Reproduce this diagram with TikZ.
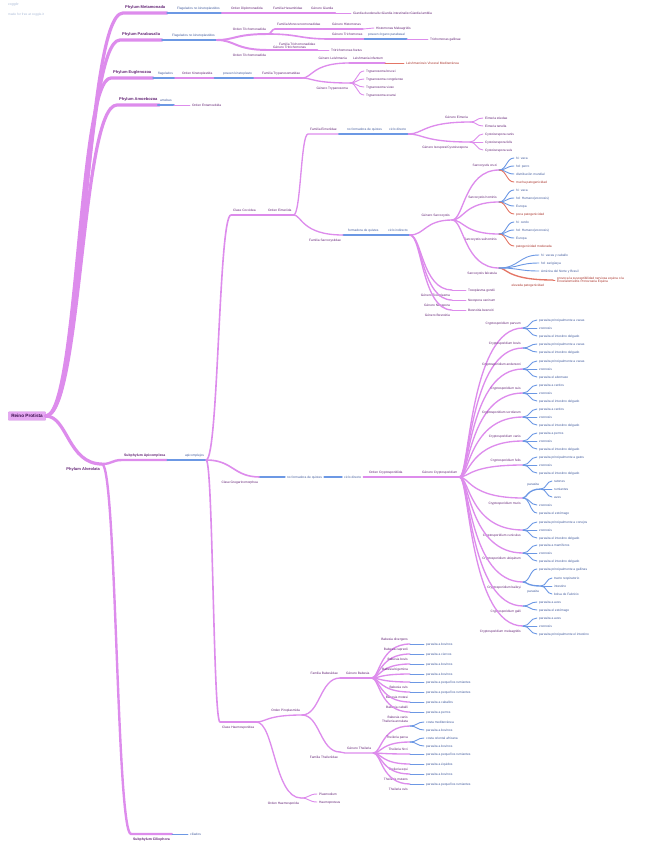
\documentclass[tikz,border=0pt]{standalone}
\usepackage{fontspec}
\setmainfont{Liberation Sans}
\usetikzlibrary{calc}

\definecolor{bm}{RGB}{221,140,236}
\definecolor{bb}{RGB}{108,152,228}
\definecolor{br}{RGB}{228,118,102}
\definecolor{tm}{RGB}{98,34,116}
\definecolor{tb}{RGB}{64,90,156}
\definecolor{tr}{RGB}{168,50,42}
\definecolor{logoc}{RGB}{170,186,214}
\definecolor{rootf}{RGB}{230,168,243}
\definecolor{rootd}{RGB}{204,128,224}
\definecolor{roott}{RGB}{58,14,76}

\newcommand\lblfont{\fontsize{4.6}{5.2}\selectfont}

\tikzset{
  sb/.style={to path={let \p1=(\tikztostart), \p2=(\tikztotarget) in
    .. controls ({(\x1+\x2)/2},\y1) and ({(\x1+\x2)/2},\y2) .. (\tikztotarget) \tikztonodes}},
  fan/.style={to path={let \p1=(\tikztostart), \p2=(\tikztotarget) in
    .. controls ({\x1+#1*0.5mm},\y1) and ({\x1+#1*0.5mm},\y2) .. (\tikztotarget) \tikztonodes}},
  lbl/.style={font=\lblfont, inner ysep=0pt, inner xsep=1mm, text=tm},
  up/.style={lbl, anchor=south west, text height=3.3pt, text depth=4.8pt},
  dn/.style={lbl, anchor=north west, text height=8.4pt, text depth=0.8pt},
  upr/.style={up, anchor=south east},
  dnr/.style={dn, anchor=north east},
  lf/.style={lbl, anchor=west, text height=3.2pt, text depth=0pt},
  ph/.style={font=\bfseries\fontsize{5.7}{6.2}\selectfont, text height=4.2pt, text depth=6.3pt},
  sub/.style={font=\bfseries\fontsize{4.9}{5.4}\selectfont, text height=3.6pt},
  blu/.style={text=tb},
  rd/.style={text=tr},
  brand/.style={anchor=west, inner sep=0pt, text=logoc},
  rootbox/.style={fill=rootf, draw=rootd, line width=0.4pt, text=roott,
    font=\bfseries\fontsize{6.6}{7}\selectfont, inner xsep=1.4mm, inner ysep=0pt,
    minimum height=4.2mm, rounded corners=0.6pt},
  trunk/.style={line width=4.6pt, line cap=round, line join=round},
  bough/.style={line width=3.4pt, line cap=round, line join=round},
  limb/.style={line width=2.8pt, line cap=round, line join=round},
  stem/.style={line width=2.3pt, line cap=round, line join=round},
  twig/.style={line width=1.9pt, line cap=round, line join=round},
  sprig/.style={line width=1.3pt, line cap=round, line join=round},
}

\begin{document}
\begin{tikzpicture}[x=0.5mm, y=-0.5mm]
\useasboundingbox (0,0) rectangle (660,848);

% header
\node[brand, font=\itshape\fontsize{5}{6}\selectfont] (logo) at (8,5) {coggle};
\node[brand, font=\fontsize{4.6}{5}\selectfont] (madefor) at (8,15) {made for free at coggle.it};

% root and phyla
\node[rootbox] (protista) at (27,416) {Reino Protista};
\node[up, ph] (metamonada) at (123,13) {Phylum Metamonada};
\node[up, ph] (parabasalia) at (120,40) {Phylum Parabasalia};
\node[up, ph] (euglenozoa) at (111,78) {Phylum Euglenozoa};
\node[up, ph] (amoebozoa) at (117,105) {Phylum Amoebozoa};
\node[dnr, ph, text height=9.6pt, text depth=1.2pt] (alveolata) at (102,464) {Phylum Alveolata};

% Metamonada
\node[up, blu] (flagmeta) at (175,13) {Flagelados no kinetoplastidos};
\node[up] (diplomonadida) at (229,13) {Orden Diplomonadida};
\node[up] (hexamitidae) at (271,13) {Familia Hexamitidae};
\node[up] (giardia) at (309,13) {Género Giardia};

% Parabasalia
\node[up, blu] (flagpara) at (170,40) {Flagelados no kinetoplastidos};
\node[upr] (trichoA) at (268,34) {Orden Trichomonadida};
\node[dnr] (trichoB) at (268,50) {Orden Trichomonadida};
\node[up] (monocerco) at (275,29) {Familia Monocercomonadidae};
\node[up] (histomonasg) at (330,29) {Género Histomonas};
\node[up] (trichomonasg) at (330,39) {Género Trichomonas};
\node[up, blu] (organo) at (366,39) {poseen órgano parabasal};
\node[lbl, anchor=south west, align=left, inner ysep=1.2pt] (trichomonadidae) at (271,50)
  {\hspace*{3mm}Familia Trichomonadidae\\Género Tritrichomonas};

% Euglenozoa
\node[up, blu] (flagelados) at (156,78) {flagelados};
\node[up] (kineto) at (180,78) {Orden Kinetoplastida};
\node[up, blu] (kinetoplasto) at (221,78) {poseen kinetoplasto};
\node[up] (trypanosomatidae) at (260,78) {Familia Trypanosomatidae};
\node[upr] (leishmaniag) at (349,63) {Género Leishmania};
\node[up] (linfantum) at (351,63) {Leishmania infantum};
\node[dnr] (trypanosomag) at (350,83) {Género Trypanosoma};

% Amoebozoa
\node[up, blu] (amebas) at (158,105) {amebas};

% Alveolata
\node[up, sub] (apicomplexa) at (122,460) {Subphylum Apicomplexa};
\node[dn, sub, text height=8.9pt] (ciliophora) at (131,834) {Subphylum Ciliophora};
\node[up, blu] (apicomplejos) at (183,460) {apicomplejos};

% Coccidea
\node[up] (coccidea) at (231,215) {Clase Coccidea};
\node[up] (eimeriida) at (266,215) {Orden Eimeriida};
\node[up] (eimeriidae) at (308,134) {Familia Eimeriidae};
\node[up, blu] (noquistes1) at (345,134) {no formadora de quistes};
\node[up, blu] (directo1) at (387,134) {ciclo directo};
\node[upr] (eimeriag) at (470,122) {Género Eimeria};
\node[dnr] (isosporag) at (470,142) {Género Isospora/Cystoisospora};
\node[dnr] (sarcocystidae) at (343,235) {Familia Sarcocystidae};
\node[up, blu] (quistes2) at (346,235) {formadora de quistes};
\node[up, blu] (indirecto) at (386,235) {ciclo indirecto};
\node[upr] (sarcocystisg) at (452,220) {Género Sarcocystis};
\node[upr] (scruzi) at (499,170) {Sarcocystis cruzi};
\node[upr] (shominis) at (499,202) {Sarcocystis hominis};
\node[dnr] (ssuihominis) at (499,234) {Sarcocystis suihominis};
\node[dnr] (sfalcatula) at (499,268) {Sarcocystis falcatula};
\node[dnr, rd, minimum width=25mm] (elevada) at (553,280) {elevada patogenicidad};
\node[lbl, rd, anchor=west, align=left] (provoca) at (555,280)
  {provoca la susceptibilidad nerviosa equina o la\\Encefalomielitis Protozoaria Equina};
\node[dnr] (toxoplasmag) at (452,290) {Género Toxoplasma};
\node[dnr] (neosporag) at (452,300) {Género Neospora};
\node[dnr] (besnoitiag) at (452,310) {Género Besnoitia};

% Gregarinomorphea
\node[dnr] (gregarino) at (260,477) {Clase Gregarinomorphea};
\node[lf, blu] (noquistes3) at (285,477) {no formadora de quistes};
\node[lf, blu] (directo2) at (342,477) {ciclo directo};
\node[up] (cryptoorden) at (367,477) {Orden Cryptosporidiida};
\node[up] (cryptog) at (420,477) {Género Cryptosporidium};
\node[upr, blu] (parasita1) at (541,489) {parasita};
\node[dnr, blu] (parasita2) at (541,586) {parasita};

% Haemosporidea
\node[dn] (haemosporidea) at (220,722) {Clase Haemosporidea};
\node[upr] (piroplasmida) at (302,715) {Orden Piroplasmida};
\node[upr] (babesiidae) at (340,678) {Familia Babesiidae};
\node[up] (babesiag) at (344,678) {Género Babesia};
\node[dnr] (theileriidae) at (340,752) {Familia Theileriidae};
\node[up] (theileriag) at (345,753) {Género Theileria};
\node[dnr] (haemosporida) at (301,798) {Orden Haemosporida};

% species fans
\foreach \nm/\yy/\st/\sd in {parvum/328/upr/south, bovis/348/upr/south, andersoni/369/upr/south,
    suis/393/upr/south, scrofarum/417/upr/south, canis/441/upr/south, felis/465/upr/south,
    muris/498/dnr/north, cuniculus/530/dnr/north, ubiquitum/553/dnr/north,
    baileyi/582/dnr/north, galli/606/dnr/north, meleagridis/626/dnr/north}{
  \node[\st] (c\nm) at (523,\yy) {Cryptosporidium \nm};
  \draw[twig, draw=bm] (cryptog.south -| cryptog.east) to[fan=10] (c\nm.\sd -| c\nm.east);
}
\foreach \nm/\yy/\st/\sd in {divergens/644/upr/south, capreoli/654/upr/south, bovis/664/upr/south,
    bigemina/674/upr/south, ovis/682/dnr/north, motasi/692/dnr/north,
    caballi/702/dnr/north, canis/712/dnr/north}{
  \node[\st] (b\nm) at (410,\yy) {Babesia \nm};
  \draw[twig, draw=bm] (babesiag.south -| babesiag.east) to[fan=8] (b\nm.\sd -| b\nm.east);
}
\foreach \nm/\yy/\st/\sd in {annulata/726/upr/south, parva/742/upr/south, hirci/754/upr/south,
    equi/764/dnr/north, mutans/774/dnr/north, ovis/784/dnr/north}{
  \node[\st] (t\nm) at (410,\yy) {Theileria \nm};
  \draw[twig, draw=bm] (theileriag.south -| theileriag.east) to[fan=8] (t\nm.\sd -| t\nm.east);
}

% branches
\foreach \cn in {metamonada, parabasalia, euglenozoa, amoebozoa}
  \draw[trunk, draw=bm] (protista.east) to[sb] (\cn.south west) -- (\cn.south east);
\draw[trunk, draw=bm] (protista.east) to[fan=22] (alveolata.north east);

\foreach \pn/\pside/\cn/\cside/\col in {metamonada/south/flagmeta/south/bb,
    parabasalia/south/flagpara/south/bb, euglenozoa/south/flagelados/south/bb,
    amoebozoa/south/amebas/south/bb, alveolata/north/apicomplexa/south/bm,
    alveolata/north/ciliophora/north/bm}
  \draw[bough, draw=\col] (\pn.\pside -| \pn.east) to[sb] (\cn.\cside -| \cn.west) -- (\cn.\cside -| \cn.east);

\foreach \pn/\pside/\cn/\cside/\col in {flagmeta/south/diplomonadida/south/bm,
    flagelados/south/kineto/south/bm, apicomplexa/south/apicomplejos/south/bb}
  \draw[limb, draw=\col] (\pn.\pside -| \pn.east) to[sb] (\cn.\cside -| \cn.west) -- (\cn.\cside -| \cn.east);
\foreach \pn/\pside/\cn/\cside/\col/\dd in {flagpara/south/trichoA/south/bm/18,
    flagpara/south/trichoB/north/bm/18}
  \draw[limb, draw=\col] (\pn.\pside -| \pn.east) to[fan=\dd] (\cn.\cside -| \cn.east);

\foreach \pn/\pside/\cn/\cside/\col in {diplomonadida/south/hexamitidae/south/bm,
    trichoA/south/monocerco/south/bm, trichoA/south/trichomonasg/south/bm,
    trichoB/north/trichomonadidae/south/bm, kineto/south/kinetoplasto/south/bb,
    apicomplejos/south/coccidea/south/bm, apicomplejos/south/haemosporidea/north/bm}
  \draw[stem, draw=\col] (\pn.\pside -| \pn.east) to[sb] (\cn.\cside -| \cn.west) -- (\cn.\cside -| \cn.east);
\draw[stem, draw=bm] (apicomplejos.south east) to[fan=27] (gregarino.north east);

\foreach \pn/\pside/\cn/\cside/\col in {hexamitidae/south/giardia/south/bm,
    monocerco/south/histomonasg/south/bm, trichomonasg/south/organo/south/bb,
    kinetoplasto/south/trypanosomatidae/south/bm, leishmaniag/south/linfantum/south/bm,
    coccidea/south/eimeriida/south/bm, eimeriida/south/eimeriidae/south/bm,
    eimeriidae/south/noquistes1/south/bb, noquistes1/south/directo1/south/bb,
    sarcocystidae/north/quistes2/south/bb, quistes2/south/indirecto/south/bb,
    directo2/center/cryptoorden/south/bm, cryptoorden/south/cryptog/south/bm,
    babesiidae/south/babesiag/south/bm, theileriidae/north/theileriag/south/bm}
  \draw[twig, draw=\col] (\pn.\pside -| \pn.east) to[sb] (\cn.\cside -| \cn.west) -- (\cn.\cside -| \cn.east);

\foreach \pn/\pside/\cn/\cside/\col/\dd in {trypanosomatidae/south/leishmaniag/south/bm/10,
    trypanosomatidae/south/trypanosomag/north/bm/10, directo1/south/eimeriag/south/bm/15,
    directo1/south/isosporag/north/bm/15, eimeriida/south/sarcocystidae/north/bm/8,
    indirecto/south/sarcocystisg/south/bm/15, indirecto/south/toxoplasmag/north/bm/12,
    indirecto/south/neosporag/north/bm/12, indirecto/south/besnoitiag/north/bm/12,
    sarcocystisg/south/scruzi/south/bm/12, sarcocystisg/south/shominis/south/bm/12,
    sarcocystisg/south/ssuihominis/north/bm/12, sarcocystisg/south/sfalcatula/north/bm/12,
    sfalcatula/north/elevada/north/br/8, haemosporidea/north/piroplasmida/south/bm/10,
    piroplasmida/south/babesiidae/south/bm/18, piroplasmida/south/theileriidae/north/bm/18,
    haemosporidea/north/haemosporida/north/bm/18, cmuris/north/parasita1/south/bb/4,
    cbaileyi/north/parasita2/north/bb/4}
  \draw[twig, draw=\col] (\pn.\pside -| \pn.east) to[fan=\dd] (\cn.\cside -| \cn.east);

\draw[twig, draw=bb] (gregarino.north east) to[sb] (noquistes3.west);
\draw[twig, draw=bb] (noquistes3.east) -- (directo2.west);
\draw[sprig, draw=br] (elevada.north east) -- (provoca.west);

% leaves
\foreach \pn/\pside/\xx/\yy/\tx/\col/\tc [count=\i] in {
    giardia/south/351/13/Giardia duodenalis=Giardia intestinalis=Giardia lamblia/bm/tm,
    histomonasg/south/374/28/Histomonas Meleagridis/bm/tm,
    organo/south/428/39/Trichomonas gallinae/bm/tm,
    trichomonadidae/south/329/50/Tritrichomonas foetus/bm/tm,
    linfantum/south/404/63/Leishmaniosis Visceral Mediterránea/br/tr,
    trypanosomag/north/364/71/Trypanosoma brucei/bm/tm,
    trypanosomag/north/364/79/Trypanosoma congolense/bm/tm,
    trypanosomag/north/364/87/Trypanosoma vivax/bm/tm,
    trypanosomag/north/364/95/Trypanosoma evansi/bm/tm,
    amebas/south/190/105/Orden Entamoebida/bm/tm,
    eimeriag/south/483/118/Eimeria stiedae/bm/tm,
    eimeriag/south/483/126/Eimeria tenella/bm/tm,
    isosporag/north/483/134/Cystoisospora canis/bm/tm,
    isosporag/north/483/142/Cystoisospora felis/bm/tm,
    isosporag/north/483/150/Cystoisospora suis/bm/tm,
    scruzi/south/514/158/hi: vaca/bb/tb,
    scruzi/south/514/166/hd: perro/bb/tb,
    scruzi/south/514/174/distribución mundial/bb/tb,
    scruzi/south/514/182/mucha patogenicidad/br/tr,
    shominis/south/514/190/hi: vaca/bb/tb,
    shominis/south/514/198/hd: Humano(zoonosis)/bb/tb,
    shominis/south/514/206/Europa/bb/tb,
    shominis/south/514/214/poca patogenicidad/br/tr,
    ssuihominis/north/514/222/hi: cerdo/bb/tb,
    ssuihominis/north/514/230/hd: Humano(zoonosis)/bb/tb,
    ssuihominis/north/514/238/Europa/bb/tb,
    ssuihominis/north/514/246/patogenicidad moderada/br/tr,
    sfalcatula/north/539/255/hi: vacas y caballo/bb/tb,
    sfalcatula/north/539/263/hd: zarigüeya/bb/tb,
    sfalcatula/north/539/271/América del Norte y Brasil/bb/tb,
    toxoplasmag/north/466/290/Toxoplasma gondii/bm/tm,
    neosporag/north/466/300/Neospora caninum/bm/tm,
    besnoitiag/north/466/310/Besnoitia besnoiti/bm/tm,
    cparvum/south/537/320/parasita principalmente a vacas/bb/tb,
    cparvum/south/537/328/zoonosis/bb/tb,
    cparvum/south/537/336/parasita el intestino delgado/bb/tb,
    cbovis/south/537/344/parasita principalmente a vacas/bb/tb,
    cbovis/south/537/352/parasita el intestino delgado/bb/tb,
    candersoni/south/537/361/parasita principalmente a vacas/bb/tb,
    candersoni/south/537/369/zoonosis/bb/tb,
    candersoni/south/537/377/parasita el abomaso/bb/tb,
    csuis/south/537/385/parasita a cerdos/bb/tb,
    csuis/south/537/393/zoonosis/bb/tb,
    csuis/south/537/401/parasita el intestino delgado/bb/tb,
    cscrofarum/south/537/409/parasita a cerdos/bb/tb,
    cscrofarum/south/537/417/zoonosis/bb/tb,
    cscrofarum/south/537/425/parasita el intestino delgado/bb/tb,
    ccanis/south/537/433/parasita a perros/bb/tb,
    ccanis/south/537/441/zoonosis/bb/tb,
    ccanis/south/537/449/parasita el intestino delgado/bb/tb,
    cfelis/south/537/457/parasita principalmente a gatos/bb/tb,
    cfelis/south/537/465/zoonosis/bb/tb,
    cfelis/south/537/473/parasita el intestino delgado/bb/tb,
    parasita1/south/552/481/ratones/bb/tb,
    parasita1/south/552/489/rumiantes/bb/tb,
    parasita1/south/552/497/aves/bb/tb,
    cmuris/north/537/505/zoonosis/bb/tb,
    cmuris/north/537/513/parasita el estómago/bb/tb,
    ccuniculus/north/537/522/parasita principalmente a conejos/bb/tb,
    ccuniculus/north/537/530/zoonosis/bb/tb,
    ccuniculus/north/537/538/parasita el intestino delgado/bb/tb,
    cubiquitum/north/537/545/parasita a mamíferos/bb/tb,
    cubiquitum/north/537/553/zoonosis/bb/tb,
    cubiquitum/north/537/561/parasita el intestino delgado/bb/tb,
    cbaileyi/north/537/569/parasita principalmente a gallinas/bb/tb,
    parasita2/north/552/578/tracto respiratorio/bb/tb,
    parasita2/north/552/586/intestino/bb/tb,
    parasita2/north/552/594/bolsa de Fabricio/bb/tb,
    cgalli/north/537/602/parasita a aves/bb/tb,
    cgalli/north/537/610/parasita el estómago/bb/tb,
    cmeleagridis/north/537/618/parasita a aves/bb/tb,
    cmeleagridis/north/537/626/zoonosis/bb/tb,
    cmeleagridis/north/537/634/parasita principalmente el intestino/bb/tb,
    bdivergens/south/424/644/parasita a bovinos/bb/tb,
    bcapreoli/south/424/654/parasita a ciervos/bb/tb,
    bbovis/south/424/664/parasita a bovinos/bb/tb,
    bbigemina/south/424/674/parasita a bovinos/bb/tb,
    bovis/north/424/682/parasita a pequeños rumiantes/bb/tb,
    bmotasi/north/424/692/parasita a pequeños rumiantes/bb/tb,
    bcaballi/north/424/702/parasita a caballos/bb/tb,
    bcanis/north/424/712/parasita a perros/bb/tb,
    tannulata/south/424/722/costa mediterránea/bb/tb,
    tannulata/south/424/730/parasita a bovinos/bb/tb,
    tparva/south/424/738/costa oriental africana/bb/tb,
    tparva/south/424/746/parasita a bovinos/bb/tb,
    thirci/south/424/754/parasita a pequeños rumiantes/bb/tb,
    tequi/north/424/764/parasita a équidos/bb/tb,
    tmutans/north/424/774/parasita a bovinos/bb/tb,
    tovis/north/424/784/parasita a pequeños rumiantes/bb/tb,
    haemosporida/north/317/794/Plasmodium/bm/tm,
    haemosporida/north/317/802/Haemoproteus/bm/tm,
    ciliophora/north/188/834/ciliados/bb/tb}{
  \node[lf, text=\tc] (leaf\i) at (\xx,\yy) {\tx};
  \draw[sprig, draw=\col] (\pn.\pside -| \pn.east) to[sb] (leaf\i.west);
}

\end{tikzpicture}
\end{document}
